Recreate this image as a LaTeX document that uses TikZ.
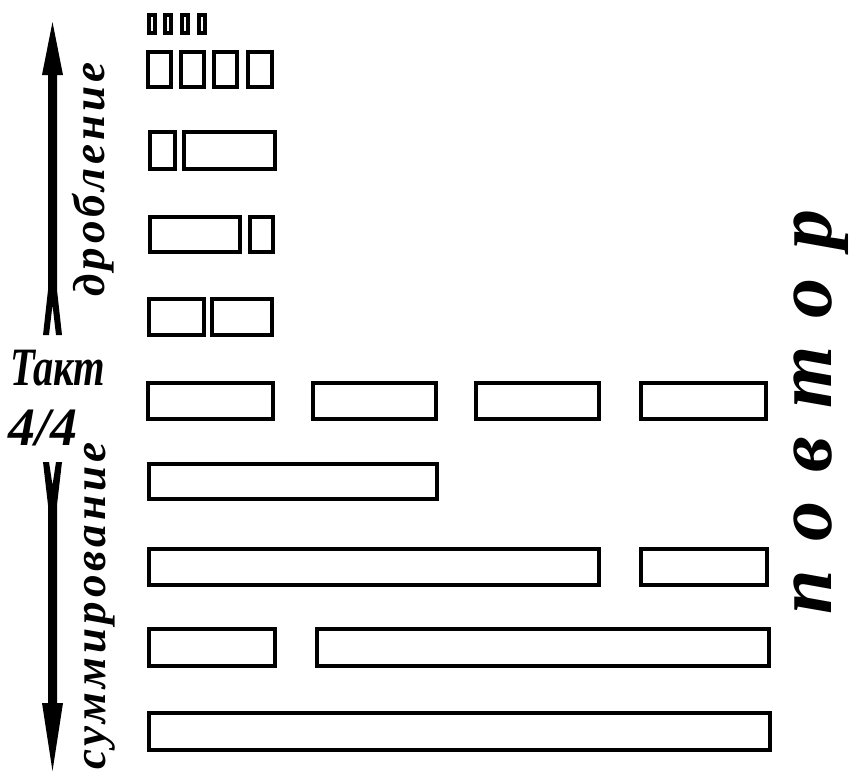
\documentclass[tikz,border=0pt]{standalone}
\usepackage{fontspec}
\newfontfamily\handfont{Liberation Serif}
\usetikzlibrary{positioning}

\begin{document}
\begin{tikzpicture}[x=1pt,y=-1pt,
  bar/.style={draw,line width=4pt},
  tinybar/.style={draw,line width=4pt},
  word/.style={rotate=90,anchor=base west,inner sep=0pt,
    font=\handfont\bfseries\itshape\fontsize{45}{45}\selectfont
      \addfontfeatures{LetterSpace=9}},
  label/.style={anchor=base west,inner sep=0pt,
    font=\handfont\bfseries\itshape\fontsize{54}{54}\selectfont}]
 \useasboundingbox (0,0) rectangle (851,771);
 % durations, top to bottom
 \draw[tinybar] (149,15) rectangle (155,33) (165,15) rectangle (171,33)
   (182,15) rectangle (188,33) (199,15) rectangle (205,33);
 \draw[bar] (148,52) rectangle (171,87) (181,52) rectangle (204,87)
   (214,52) rectangle (237,87) (248,52) rectangle (272,87);
 \draw[bar] (150,132) rectangle (175,169) (184,132) rectangle (275,169);
 \draw[bar] (150,217) rectangle (240,252) (250,217) rectangle (273,252);
 \draw[bar] (149,299) rectangle (204,335) (212,299) rectangle (272,335);
 \draw[bar] (148,383) rectangle (273,419) (313,383) rectangle (436,419)
   (476,383) rectangle (599,419) (641,383) rectangle (766,419);
 \draw[bar] (149,464) rectangle (437,499);
 \draw[bar] (149,549) rectangle (599,585) (641,549) rectangle (767,585);
 \draw[bar] (149,629) rectangle (275,666) (317,629) rectangle (769,666);
 \draw[bar] (149,713) rectangle (770,750);
 % arrows
 \fill (52.5,22) -- (63,75) -- (57,75) -- (57,290) -- (62,335) -- (56,335)
   -- (52.5,305) -- (49,335) -- (43,335) -- (48,290) -- (48,75) -- (42,75) -- cycle;
 \fill (43,462) -- (49,462) -- (52.5,485) -- (56,462) -- (62,462) -- (57,505)
   -- (57,703) -- (63,703) -- (52.5,771) -- (42,703) -- (48,703) -- (48,505) -- cycle;
 % texts
 \node[word] (frag) at (104,297) {дробление};
 \node[word] (summ) at (105,770) {суммирование};
 \node[label,xscale=.75] (takt) at (10,385) {Такт};
 \node[label] (meter) at (8,445) {4/4};
 \node[word,font=\handfont\bfseries\itshape\fontsize{80}{80}\selectfont
   \addfontfeatures{LetterSpace=36}] (rpt) at (831,615) {повтор};
\end{tikzpicture}
\end{document}
